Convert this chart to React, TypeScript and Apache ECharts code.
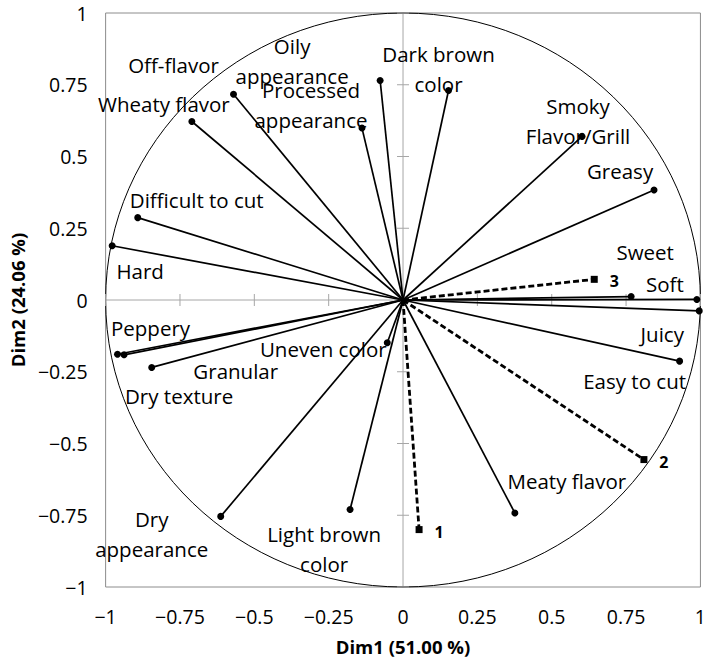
import React, { useEffect, useRef } from "react";
import * as echarts from "echarts";

// ---- data ----
const variables = [
  "Hard",
  "Difficult to cut",
  "Wheaty flavor",
  "Off-flavor",
  "Oily\nappearance",
  "Processed\nappearance",
  "Dark brown\ncolor",
  "Smoky\nFlavor/Grill",
  "Greasy",
  "Sweet",
  "Soft",
  "Juicy",
  "Easy to cut",
  "Meaty flavor",
  "Light brown\ncolor",
  "Dry\nappearance",
  "Dry texture",
  "Granular",
  "Peppery",
  "Uneven color",
];
const dim1 = [
  -0.978, -0.892, -0.71, -0.57, -0.077, -0.138, 0.153, 0.602, 0.844, 0.767,
  0.988, 0.996, 0.93, 0.376, -0.178, -0.613, -0.938, -0.845, -0.96, -0.053,
];
const dim2 = [
  0.189, 0.287, 0.622, 0.717, 0.765, 0.599, 0.73, 0.57, 0.383, 0.012,
  0.002, -0.038, -0.213, -0.742, -0.73, -0.754, -0.191, -0.235, -0.189, -0.149,
];
const samples = ["1", "2", "3"];
const sampleDim1 = [0.054, 0.81, 0.643];
const sampleDim2 = [-0.8, -0.556, 0.072];
const tickValues = [-1, -0.75, -0.5, -0.25, 0, 0.25, 0.5, 0.75, 1];

// ---- layout (label offsets in px, relative to the end point) ----
const labelOffsets: [number, number][] = [
  [28, 25],
  [59, -18],
  [-28, -17],
  [-60, -29],
  [-88, -19],
  [-51, -23],
  [-10, -21],
  [-4, -15],
  [-34, -19],
  [14, -45],
  [-32, -15],
  [-37, 23],
  [-45, 20],
  [52, -32],
  [-26, 39],
  [-69, 18],
  [55, 41],
  [84, 4],
  [33, -26],
  [-64, 6],
];
const sampleLabelOffset: [number, number] = [20, 2];

const FONT = "Open Sans";

const fmt = (v: number) => (v < 0 ? "\u2212" + String(Math.abs(v)) : String(v));

export default function App() {
  const ref = useRef<HTMLDivElement>(null);

  useEffect(() => {
    if (!ref.current) return;
    const chart = echarts.init(ref.current, undefined, { renderer: "svg" });

    const varSeries = variables.map((name, i) => ({
      type: "line",
      name,
      z: 3,
      lineStyle: { color: "#000", width: 1.7 },
      itemStyle: { color: "#000" },
      showAllSymbol: true,
      data: [
        { value: [0, 0], symbol: "none" },
        {
          value: [dim1[i], dim2[i]],
          symbol: "circle",
          symbolSize: 7,
          label: {
            show: true,
            formatter: name,
            position: "inside",
            offset: labelOffsets[i],
            color: "#000",
            fontFamily: FONT,
            fontSize: 20.5,
            lineHeight: 30,
            align: "center",
            verticalAlign: "middle",
            textBorderWidth: 0,
          },
        },
      ],
    }));

    const sampleSeries = samples.map((name, i) => ({
      type: "line",
      name: "sample " + name,
      z: 3,
      lineStyle: { color: "#000", width: 2.8, type: [6, 3] },
      itemStyle: { color: "#000" },
      showAllSymbol: true,
      data: [
        { value: [0, 0], symbol: "none" },
        {
          value: [sampleDim1[i], sampleDim2[i]],
          symbol: "rect",
          symbolSize: 7,
          label: {
            show: true,
            formatter: name,
            position: "inside",
            offset: sampleLabelOffset,
            color: "#000",
            fontFamily: FONT,
            fontWeight: "bold",
            fontSize: 16,
            align: "center",
            verticalAlign: "middle",
            textBorderWidth: 0,
          },
        },
      ],
    }));

    const frameSeries = {
      type: "custom",
      z: 1,
      silent: true,
      clip: false,
      data: [0],
      renderItem: (_params: any, api: any) => {
        const c = api.coord([0, 0]);
        const s = api.size([1, 1]);
        const l = api.coord([-1, 0]);
        const r = api.coord([1, 0]);
        const t = api.coord([0, 1]);
        const b = api.coord([0, -1]);
        return {
          type: "group",
          children: [
            {
              type: "line",
              shape: { x1: l[0], y1: l[1], x2: r[0], y2: r[1] },
              style: { stroke: "#a6a6a6", lineWidth: 1 },
            },
            {
              type: "line",
              shape: { x1: t[0], y1: t[1], x2: b[0], y2: b[1] },
              style: { stroke: "#a6a6a6", lineWidth: 1 },
            },
            {
              type: "ellipse",
              shape: { cx: c[0], cy: c[1], rx: s[0], ry: s[1] },
              style: { stroke: "#000", fill: "none", lineWidth: 1 },
            },
          ],
        };
      },
    };

    const tickSeries = {
      type: "custom",
      z: 1,
      silent: true,
      clip: false,
      data: tickValues,
      renderItem: (_params: any, api: any) => {
        const v = api.value(0);
        const px = api.coord([v, 0]);
        const py = api.coord([0, v]);
        return {
          type: "group",
          children: [
            {
              type: "line",
              shape: { x1: px[0], y1: px[1] - 6, x2: px[0], y2: px[1] + 6 },
              style: { stroke: "#a6a6a6", lineWidth: 1 },
            },
            {
              type: "line",
              shape: { x1: py[0] - 6, y1: py[1], x2: py[0] + 6, y2: py[1] },
              style: { stroke: "#a6a6a6", lineWidth: 1 },
            },
          ],
        };
      },
    };

    const nameStyle = {
      color: "#000",
      fontFamily: FONT,
      fontWeight: "bold",
      fontSize: 18.5,
    };

    chart.setOption({
      animation: false,
      backgroundColor: "#fff",
      grid: {
        left: 95,
        right: 6,
        top: 13,
        bottom: 74,
        show: true,
        borderColor: "#8c8c8c",
        borderWidth: 1,
        containLabel: false,
      },
      xAxis: {
        type: "value",
        min: -1,
        max: 1,
        interval: 0.25,
        position: "bottom",
        axisLine: { show: false, onZero: false },
        axisTick: { show: false },
        splitLine: { show: false },
        axisLabel: {
          formatter: fmt,
          color: "#000",
          fontFamily: FONT,
          fontSize: 19.5,
          margin: 19,
        },
        name: "Dim1 (51.00 %)",
        nameLocation: "middle",
        nameGap: 50,
        nameTextStyle: nameStyle,
      },
      yAxis: {
        type: "value",
        min: -1,
        max: 1,
        interval: 0.25,
        position: "left",
        axisLine: { show: false, onZero: false },
        axisTick: { show: false },
        splitLine: { show: false },
        axisLabel: {
          formatter: fmt,
          color: "#000",
          fontFamily: FONT,
          fontSize: 19.5,
          margin: 18,
        },
        name: "Dim2 (24.06 %)",
        nameLocation: "middle",
        nameGap: 72,
        nameTextStyle: nameStyle,
      },
      series: [frameSeries, tickSeries, ...varSeries, ...sampleSeries],
    });

    return () => chart.dispose();
  }, []);

  return (
    <div
      ref={ref}
      style={{ position: "fixed", left: 0, top: 0, width: 709, height: 661 }}
    />
  );
}
